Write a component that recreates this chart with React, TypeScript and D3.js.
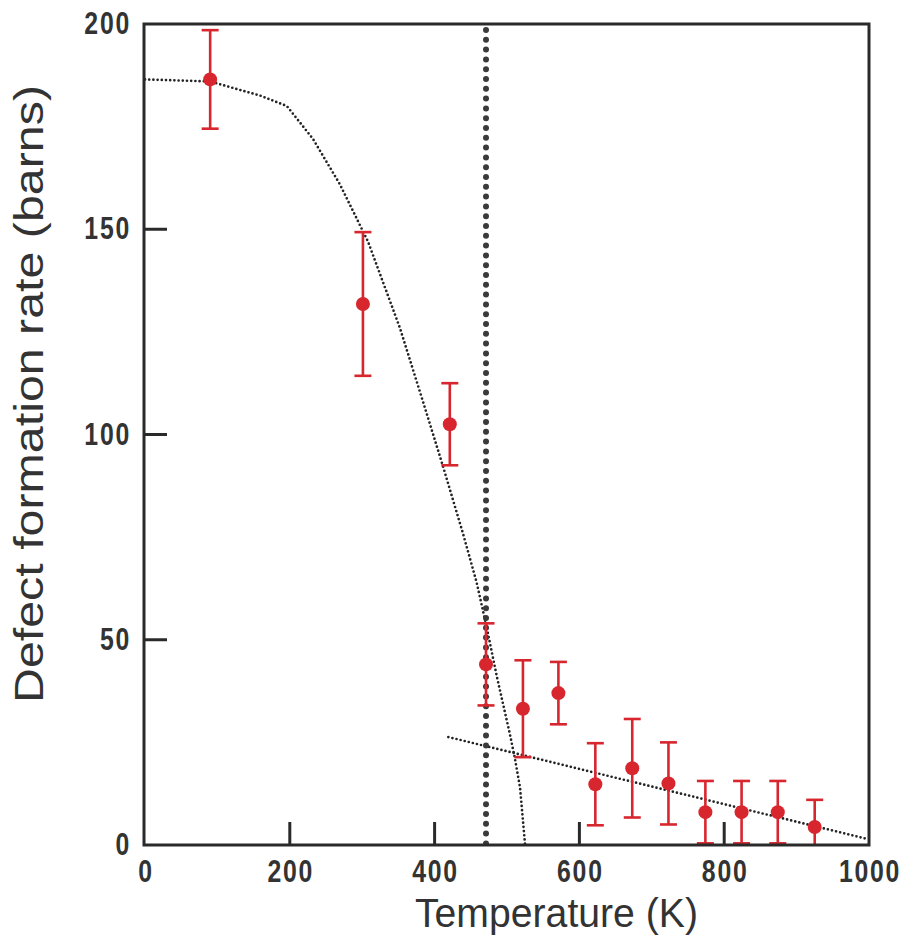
import React from "react";
import * as d3 from "d3";

// Measured data points (Temperature K, defect formation rate barns, error)
const temps = [90, 301, 421, 471, 522, 571, 622, 673, 723, 774, 824, 874, 925];
const rates = [186.5, 131.8, 102.5, 44, 33.2, 37, 14.8, 18.7, 15, 8, 8, 8, 4.4];
const errs = [12, 17.5, 10, 10, 11.8, 7.6, 10, 12, 10, 7.6, 7.6, 7.6, 6.6];

// Fitted curve 1 (low-temperature curve)
const curve1X = [0, 90, 160, 196, 232, 269, 308, 352, 384, 412, 439, 458, 472, 486, 504, 511, 518, 525];
const curve1Y = [186.5, 186, 182.5, 180, 172, 161, 147, 126, 108, 92, 76, 64, 53, 41, 27, 21, 14, 0];

// Fitted line 2 (high-temperature line)
const curve2X = [419, 997];
const curve2Y = [26.3, 1.5];

// Vertical dotted marker
const markerX = 471;

const xTicks = [0, 200, 400, 600, 800, 1000];
const yTicks = [0, 50, 100, 150, 200];

const W = 906;
const H = 944;
const left = 144;
const right = 869;
const top = 24;
const bottom = 845;

function TickLabel(props: { x: number; y: number; anchor: "middle" | "end"; text: string }) {
  return (
    <g transform={`translate(${props.x},${props.y}) scale(0.8,1)`}>
      <text
        x={0}
        y={0}
        textAnchor={props.anchor}
        fontFamily="'Liberation Sans', Arial, sans-serif"
        fontWeight={700}
        fontSize={31}
        letterSpacing={2.2}
        fill="#333"
      >
        {props.text}
      </text>
    </g>
  );
}

export default function App() {
  const x = d3.scaleLinear().domain([0, 1000]).range([145, 869]);
  const y = d3.scaleLinear().domain([0, 200]).range([845, 24]);
  const line = d3
    .line<[number, number]>()
    .x((d) => x(d[0]))
    .y((d) => y(d[1]));
  const c1 = curve1X.map((v, i) => [v, curve1Y[i]] as [number, number]);
  const c2 = curve2X.map((v, i) => [v, curve2Y[i]] as [number, number]);
  const red = "#d8262e";
  const ink = "#2a2a2a";

  return (
    <svg
      width={W}
      height={H}
      style={{ position: "absolute", left: 0, top: 0, background: "#fff" }}
    >
      <defs>
        <clipPath id="plotclip">
          <rect x={left} y={top - 2} width={right - left} height={bottom - top + 2} />
        </clipPath>
      </defs>
      <rect width={W} height={H} fill="#fff" />

      {/* curves */}
      <g clipPath="url(#plotclip)">
        <path
          d={line(c1) || ""}
          fill="none"
          stroke="#222"
          strokeWidth={2.7}
          strokeDasharray="0 4.2"
          strokeLinecap="round"
        />
        <path
          d={line(c2) || ""}
          fill="none"
          stroke="#222"
          strokeWidth={2.7}
          strokeDasharray="0 4.2"
          strokeLinecap="round"
        />
        <line
          x1={x(markerX)}
          x2={x(markerX)}
          y1={y(200) + 6}
          y2={y(0)}
          stroke="#3a3a3a"
          strokeWidth={6}
          strokeDasharray="0 9.8"
          strokeLinecap="round"
        />
        {/* error bars */}
        {temps.map((t, i) => {
          const cx = x(t);
          const y1 = y(rates[i] + errs[i]);
          const y0 = y(rates[i] - errs[i]);
          return (
            <g key={i} stroke={red} strokeWidth={2.6}>
              <line x1={cx} x2={cx} y1={y1} y2={y0} />
              <line x1={cx - 8.5} x2={cx + 8.5} y1={y1} y2={y1} />
              <line x1={cx - 8.5} x2={cx + 8.5} y1={y0} y2={y0} />
            </g>
          );
        })}
        {temps.map((t, i) => (
          <circle key={i} cx={x(t)} cy={y(rates[i])} r={7} fill={red} />
        ))}
      </g>

      {/* frame */}
      <rect
        x={left}
        y={top}
        width={right - left}
        height={bottom - top}
        fill="none"
        stroke={ink}
        strokeWidth={3}
      />
      {/* ticks (inward) */}
      {xTicks.slice(1, -1).map((t) => (
        <line key={"xt" + t} x1={x(t)} x2={x(t)} y1={bottom} y2={bottom - 23} stroke={ink} strokeWidth={3} />
      ))}
      {yTicks.slice(1, -1).map((t) => (
        <line key={"yt" + t} x1={left} x2={left + 23} y1={y(t)} y2={y(t)} stroke={ink} strokeWidth={3} />
      ))}

      {/* tick labels */}
      {xTicks.map((t) => (
        <TickLabel key={"xl" + t} x={x(t) + 1} y={882} anchor="middle" text={String(t)} />
      ))}
      {yTicks.map((t) => (
        <TickLabel key={"yl" + t} x={131} y={y(t) + 10} anchor="end" text={String(t)} />
      ))}

      {/* axis titles */}
      <text
        x={415}
        y={927}
        fontFamily="'Liberation Sans', Arial, sans-serif"
        fontSize={41}
        fill="#333"
        textLength={283}
        lengthAdjust="spacingAndGlyphs"
      >
        Temperature (K)
      </text>
      <text
        transform="translate(43,703) rotate(-90)"
        x={0}
        y={0}
        fontFamily="'Liberation Sans', Arial, sans-serif"
        fontSize={40}
        fill="#333"
        textLength={618}
        lengthAdjust="spacingAndGlyphs"
      >
        Defect formation rate (barns)
      </text>
    </svg>
  );
}
